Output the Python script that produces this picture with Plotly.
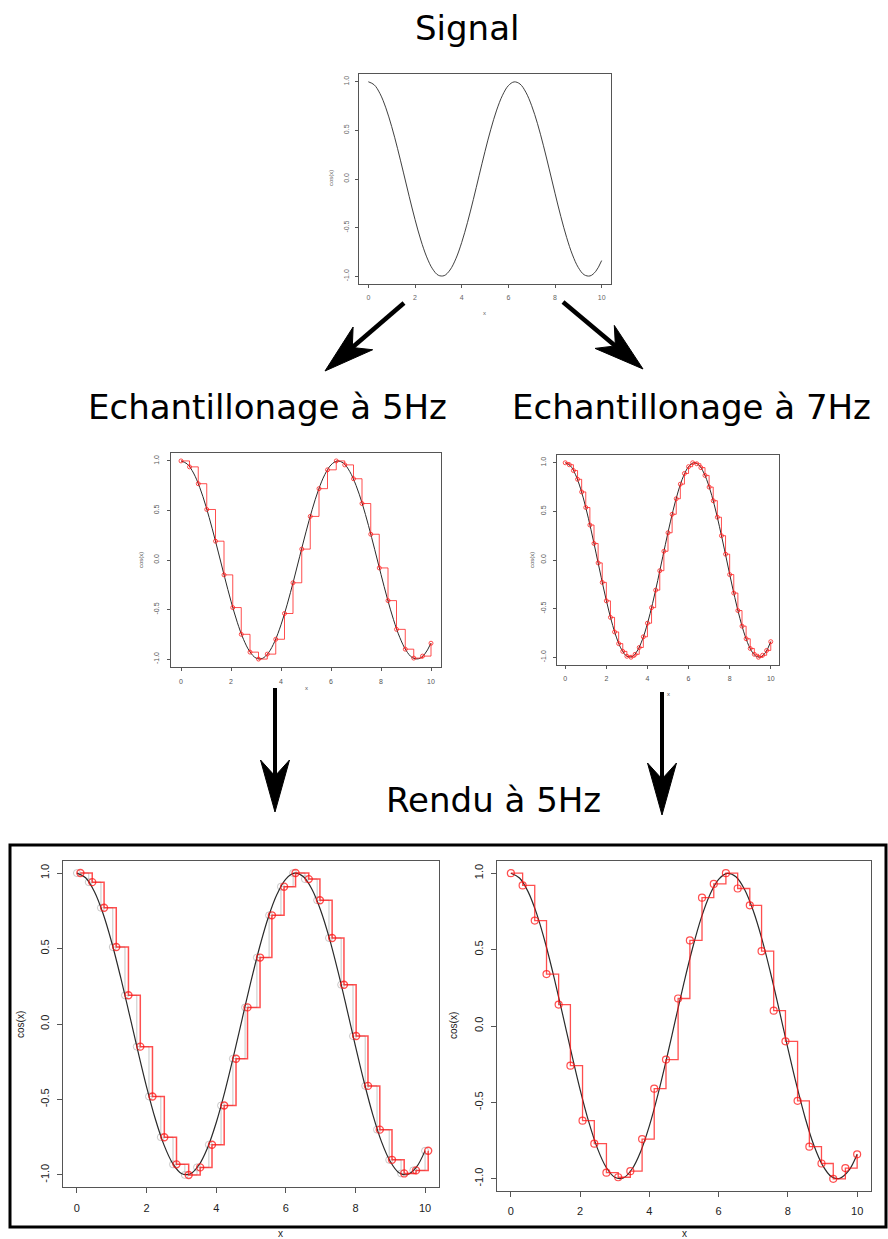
import math
import plotly.graph_objects as go

W, H = 888, 1239

# Continuous signal cos(x), x from 0 to 10
curve_x = [0.0, 0.25, 0.5, 0.75, 1.0, 1.25, 1.5, 1.75, 2.0, 2.25, 2.5, 2.75, 3.0, 3.25,
           3.5, 3.75, 4.0, 4.25, 4.5, 4.75, 5.0, 5.25, 5.5, 5.75, 6.0, 6.25, 6.5, 6.75,
           7.0, 7.25, 7.5, 7.75, 8.0, 8.25, 8.5, 8.75, 9.0, 9.25, 9.5, 9.75, 10.0]
curve_y = [1.000, 0.969, 0.878, 0.732, 0.540, 0.315, 0.071, -0.178, -0.416, -0.628,
           -0.801, -0.924, -0.990, -0.994, -0.936, -0.821, -0.654, -0.446, -0.211, 0.038,
           0.284, 0.512, 0.709, 0.861, 0.960, 0.999, 0.977, 0.893, 0.754, 0.569,
           0.347, 0.104, -0.146, -0.386, -0.602, -0.781, -0.911, -0.985, -0.997, -0.949,
           -0.839]

# Sampling at "5 Hz"
s5_x = [0.00, 0.34, 0.69, 1.03, 1.38, 1.72, 2.07, 2.41, 2.76, 3.10, 3.45, 3.79, 4.14,
        4.48, 4.83, 5.17, 5.52, 5.86, 6.21, 6.55, 6.90, 7.24, 7.59, 7.93, 8.28, 8.62,
        8.97, 9.31, 9.66, 10.00]
s5_y = [1.00, 0.94, 0.77, 0.51, 0.19, -0.15, -0.48, -0.75, -0.93, -1.00, -0.95, -0.80,
        -0.54, -0.23, 0.11, 0.44, 0.72, 0.91, 1.00, 0.96, 0.82, 0.57, 0.26, -0.08,
        -0.41, -0.70, -0.90, -0.99, -0.97, -0.84]

# Same 5 Hz samples, rendered with a small delay
r5_x = [0.10, 0.44, 0.78, 1.13, 1.48, 1.82, 2.17, 2.51, 2.86, 3.21, 3.54, 3.88, 4.23,
        4.57, 4.90, 5.26, 5.60, 5.95, 6.28, 6.66, 6.98, 7.33, 7.67, 8.02, 8.36, 8.70,
        9.05, 9.40, 9.74, 10.09]

# Sampling at "7 Hz"
s7_x = [0.0, 0.2, 0.4, 0.6, 0.8, 1.0, 1.2, 1.4, 1.6, 1.8, 2.0, 2.2, 2.4, 2.6, 2.8, 3.0,
        3.2, 3.4, 3.6, 3.8, 4.0, 4.2, 4.4, 4.6, 4.8, 5.0, 5.2, 5.4, 5.6, 5.8, 6.0, 6.2,
        6.4, 6.6, 6.8, 7.0, 7.2, 7.4, 7.6, 7.8, 8.0, 8.2, 8.4, 8.6, 8.8, 9.0, 9.2, 9.4,
        9.6, 9.8, 10.0]
s7_y = [1.00, 0.98, 0.92, 0.83, 0.70, 0.54, 0.36, 0.17, -0.03, -0.23, -0.42, -0.59,
        -0.74, -0.86, -0.94, -0.99, -1.00, -0.97, -0.90, -0.79, -0.65, -0.49, -0.31,
        -0.11, 0.09, 0.28, 0.47, 0.63, 0.78, 0.89, 0.96, 1.00, 0.99, 0.95, 0.87, 0.75,
        0.61, 0.44, 0.25, 0.06, -0.15, -0.34, -0.52, -0.68, -0.81, -0.91, -0.97, -1.00,
        -0.98, -0.93, -0.84]

# 7 Hz samples played back at 5 Hz
r7_y = [1.00, 0.92, 0.69, 0.34, 0.14, -0.26, -0.62, -0.77, -0.96, -0.99, -0.95, -0.74,
        -0.41, -0.22, 0.18, 0.56, 0.84, 0.93, 1.00, 0.90, 0.79, 0.49, 0.10, -0.10,
        -0.49, -0.79, -0.90, -1.00, -0.93, -0.84]

x_ticks = [0, 2, 4, 6, 8, 10]
y_ticks = [-1.0, -0.5, 0.0, 0.5, 1.0]
y_tick_text = ["-1.0", "-0.5", "0.0", "0.5", "1.0"]

titles = ["Signal", "Echantillonage à 5Hz", "Echantillonage à 7Hz", "Rendu à 5Hz"]

RED = "rgba(255,20,20,0.75)"
GREY = "rgba(185,185,185,0.8)"
CURVE = "#2a2a2a"


def px(x):
    return x / W


def py(y):
    return 1 - y / H


fig = go.Figure()

# panel boxes in pixels: (left, right, top, bottom)
panels = [
    (359, 611, 74, 284),
    (171, 441, 453, 667),
    (557, 779, 455, 665),
    (63, 439, 861, 1187),
    (497, 871, 861, 1191),
]


def ax(i):
    return ("x" if i == 1 else f"x{i}"), ("y" if i == 1 else f"y{i}")


def add_curve(i, width):
    xa, ya = ax(i)
    fig.add_trace(go.Scatter(x=curve_x, y=curve_y, mode="lines", line=dict(color=CURVE, width=width, shape="spline", smoothing=1.0),
                             xaxis=xa, yaxis=ya, hoverinfo="skip"))


def add_steps(i, xs, ys, color, width, msize, mline):
    xa, ya = ax(i)
    fig.add_trace(go.Scatter(x=xs, y=ys, mode="lines", line=dict(color=color, width=width, shape="hv"),
                             xaxis=xa, yaxis=ya, hoverinfo="skip"))
    fig.add_trace(go.Scatter(x=xs, y=ys, mode="markers",
                             marker=dict(symbol="circle-open", size=msize, color=color, line=dict(width=mline, color=color)),
                             xaxis=xa, yaxis=ya, hoverinfo="skip"))


# 1: the signal
add_curve(1, 0.9)
# 2: 5 Hz sampling
add_curve(2, 1.0)
add_steps(2, s5_x, s5_y, RED, 1.0, 4, 1.0)
# 3: 7 Hz sampling
add_curve(3, 1.0)
add_steps(3, s7_x, s7_y, RED, 1.0, 4, 1.0)
# 4: 5 Hz samples rendered at 5 Hz
add_steps(4, s5_x, s5_y, GREY, 1.0, 7, 1.0)
add_curve(4, 1.2)
add_steps(4, r5_x, s5_y, RED, 1.5, 7, 1.4)
# 5: 7 Hz samples rendered at 5 Hz
add_curve(5, 1.2)
add_steps(5, s5_x, r7_y, RED, 1.3, 7, 1.2)

# axis styling per panel: (tick font size, tick length, x standoff, y standoff, label colour)
styles = [
    (7, 3, 4, 3, "#666"),
    (7, 3, 5, 5, "#555"),
    (7, 3, 4, 4, "#555"),
    (11, 5, 6, 4, "#222"),
    (11, 5, 5, 4, "#222"),
]

layout = {}
for i, ((l, r, t, b), (fs, tl, xs, ys, col)) in enumerate(zip(panels, styles), start=1):
    xk = "xaxis" if i == 1 else f"xaxis{i}"
    yk = "yaxis" if i == 1 else f"yaxis{i}"
    xa, ya = ax(i)
    common = dict(showgrid=False, zeroline=False, showline=True, mirror=True,
                  linecolor="#555", linewidth=1, ticks="outside", ticklen=tl,
                  tickcolor="#555", tickwidth=1,
                  tickfont=dict(family="Liberation Sans, Arial, sans-serif", size=fs, color=col))
    layout[xk] = dict(common, domain=[px(l), px(r)], range=[-0.4, 10.4], tickvals=x_ticks,
                      anchor=ya, ticklabelstandoff=xs, fixedrange=True)
    layout[yk] = dict(common, domain=[py(b), py(t)], range=[-1.08, 1.08], tickvals=y_ticks,
                      ticktext=y_tick_text, tickangle=-90, anchor=xa, ticklabelstandoff=ys,
                      fixedrange=True)

fig.update_layout(**layout)

annotations = []
# headings
for text, cx, cy in [(titles[0], 467, 28), (titles[1], 267, 407), (titles[2], 691, 407), (titles[3], 493, 800)]:
    annotations.append(dict(text=text, x=px(cx), y=py(cy), xref="paper", yref="paper",
                            xanchor="center", yanchor="middle", showarrow=False,
                            font=dict(family="DejaVu Sans", size=34, color="black")))

# axis titles: ("x" position, "cos(x)" position, font size, colour)
for (xl, yl, fs, col) in [
    ((484, 313), (331, 178), 6, "#666"),
    ((306, 688), (141, 560), 6, "#555"),
    ((668, 694), (532, 560), 6, "#555"),
    ((280, 1233), (20, 1025), 10, "#222"),
    ((684, 1233), (453, 1025), 10, "#222"),
]:
    annotations.append(dict(text="x", x=px(xl[0]), y=py(xl[1]), xref="paper", yref="paper",
                            showarrow=False, xanchor="center", yanchor="middle",
                            font=dict(family="Liberation Sans, Arial, sans-serif", size=fs, color=col)))
    annotations.append(dict(text="cos(x)", x=px(yl[0]), y=py(yl[1]), xref="paper", yref="paper",
                            showarrow=False, xanchor="center", yanchor="middle", textangle=-90,
                            font=dict(family="Liberation Sans, Arial, sans-serif", size=fs, color=col)))

shapes = []


def arrow(tail, tip, head_len=50, half_w=15, notch=36, width=4):
    tx, ty = tail
    hx, hy = tip
    dx, dy = hx - tx, hy - ty
    L = math.hypot(dx, dy)
    ux, uy = dx / L, dy / L
    nx, ny = -uy, ux
    bx, by = hx - ux * head_len, hy - uy * head_len
    b1 = (bx + nx * half_w, by + ny * half_w)
    b2 = (bx - nx * half_w, by - ny * half_w)
    nt = (hx - ux * notch, hy - uy * notch)
    shapes.append(dict(type="line", xref="paper", yref="paper",
                       x0=px(tx), y0=py(ty), x1=px(nt[0] + ux * 2), y1=py(nt[1] + uy * 2),
                       line=dict(color="black", width=width)))
    pts = [(hx, hy), b1, nt, b2]
    path = "M " + " L ".join(f"{px(a):.5f},{py(b):.5f}" for a, b in pts) + " Z"
    shapes.append(dict(type="path", xref="paper", yref="paper", path=path,
                       fillcolor="black", line=dict(color="black", width=1)))


arrow((404, 303), (325, 371), head_len=50, half_w=15, notch=36, width=4.5)
arrow((563, 302), (643, 369), head_len=50, half_w=15, notch=36, width=4.5)
arrow((275, 688), (275, 812), head_len=52, half_w=14.5, notch=36, width=4)
arrow((662, 692), (662, 815), head_len=52, half_w=14.5, notch=36, width=4)

# frame around the rendered panels
shapes.append(dict(type="rect", xref="paper", yref="paper", x0=px(10), y0=py(845), x1=px(886), y1=py(1227),
                   line=dict(color="black", width=3), fillcolor="rgba(0,0,0,0)", layer="below"))

fig.update_layout(
    width=W, height=H,
    margin=dict(l=0, r=0, t=0, b=0),
    paper_bgcolor="white", plot_bgcolor="white",
    showlegend=False,
    annotations=annotations,
    shapes=shapes,
)

fig.write_html("out.html", config={"displayModeBar": False})
